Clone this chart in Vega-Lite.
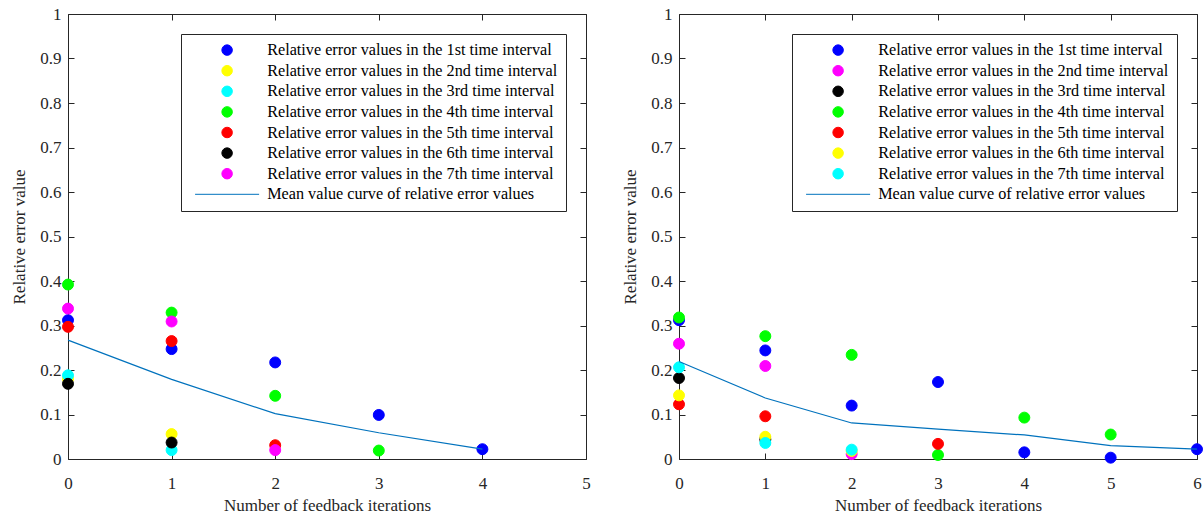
{
  "$schema": "https://vega.github.io/schema/vega-lite/v6.json",
  "padding": {"left": 10, "top": 5, "right": 3, "bottom": 2},
  "bounds": "flush",
  "spacing": 93,
  "datasets": {
    "leftPoints": [
      {"iteration": 0, "error": 0.312, "series": "Relative error values in the 1st time interval"},
      {"iteration": 1, "error": 0.247, "series": "Relative error values in the 1st time interval"},
      {"iteration": 2, "error": 0.217, "series": "Relative error values in the 1st time interval"},
      {"iteration": 3, "error": 0.099, "series": "Relative error values in the 1st time interval"},
      {"iteration": 4, "error": 0.022, "series": "Relative error values in the 1st time interval"},
      {"iteration": 0, "error": 0.180, "series": "Relative error values in the 2nd time interval"},
      {"iteration": 1, "error": 0.056, "series": "Relative error values in the 2nd time interval"},
      {"iteration": 0, "error": 0.188, "series": "Relative error values in the 3rd time interval"},
      {"iteration": 1, "error": 0.020, "series": "Relative error values in the 3rd time interval"},
      {"iteration": 0, "error": 0.392, "series": "Relative error values in the 4th time interval"},
      {"iteration": 1, "error": 0.329, "series": "Relative error values in the 4th time interval"},
      {"iteration": 2, "error": 0.142, "series": "Relative error values in the 4th time interval"},
      {"iteration": 3, "error": 0.019, "series": "Relative error values in the 4th time interval"},
      {"iteration": 0, "error": 0.297, "series": "Relative error values in the 5th time interval"},
      {"iteration": 1, "error": 0.265, "series": "Relative error values in the 5th time interval"},
      {"iteration": 2, "error": 0.031, "series": "Relative error values in the 5th time interval"},
      {"iteration": 0, "error": 0.169, "series": "Relative error values in the 6th time interval"},
      {"iteration": 1, "error": 0.037, "series": "Relative error values in the 6th time interval"},
      {"iteration": 0, "error": 0.338, "series": "Relative error values in the 7th time interval"},
      {"iteration": 1, "error": 0.309, "series": "Relative error values in the 7th time interval"},
      {"iteration": 2, "error": 0.020, "series": "Relative error values in the 7th time interval"}
    ],
    "leftMean": [
      {"iteration": 0, "error": 0.267, "series": "Mean value curve of relative error values"},
      {"iteration": 1, "error": 0.179, "series": "Mean value curve of relative error values"},
      {"iteration": 2, "error": 0.102, "series": "Mean value curve of relative error values"},
      {"iteration": 3, "error": 0.059, "series": "Mean value curve of relative error values"},
      {"iteration": 4, "error": 0.022, "series": "Mean value curve of relative error values"}
    ],
    "rightPoints": [
      {"iteration": 0, "error": 0.312, "series": "Relative error values in the 1st time interval"},
      {"iteration": 1, "error": 0.244, "series": "Relative error values in the 1st time interval"},
      {"iteration": 2, "error": 0.120, "series": "Relative error values in the 1st time interval"},
      {"iteration": 3, "error": 0.173, "series": "Relative error values in the 1st time interval"},
      {"iteration": 4, "error": 0.015, "series": "Relative error values in the 1st time interval"},
      {"iteration": 5, "error": 0.003, "series": "Relative error values in the 1st time interval"},
      {"iteration": 6, "error": 0.022, "series": "Relative error values in the 1st time interval"},
      {"iteration": 0, "error": 0.259, "series": "Relative error values in the 2nd time interval"},
      {"iteration": 1, "error": 0.209, "series": "Relative error values in the 2nd time interval"},
      {"iteration": 2, "error": 0.011, "series": "Relative error values in the 2nd time interval"},
      {"iteration": 0, "error": 0.182, "series": "Relative error values in the 3rd time interval"},
      {"iteration": 1, "error": 0.044, "series": "Relative error values in the 3rd time interval"},
      {"iteration": 0, "error": 0.318, "series": "Relative error values in the 4th time interval"},
      {"iteration": 1, "error": 0.276, "series": "Relative error values in the 4th time interval"},
      {"iteration": 2, "error": 0.234, "series": "Relative error values in the 4th time interval"},
      {"iteration": 3, "error": 0.009, "series": "Relative error values in the 4th time interval"},
      {"iteration": 4, "error": 0.093, "series": "Relative error values in the 4th time interval"},
      {"iteration": 5, "error": 0.055, "series": "Relative error values in the 4th time interval"},
      {"iteration": 0, "error": 0.123, "series": "Relative error values in the 5th time interval"},
      {"iteration": 1, "error": 0.096, "series": "Relative error values in the 5th time interval"},
      {"iteration": 3, "error": 0.034, "series": "Relative error values in the 5th time interval"},
      {"iteration": 0, "error": 0.143, "series": "Relative error values in the 6th time interval"},
      {"iteration": 1, "error": 0.050, "series": "Relative error values in the 6th time interval"},
      {"iteration": 2, "error": 0.018, "series": "Relative error values in the 6th time interval"},
      {"iteration": 0, "error": 0.206, "series": "Relative error values in the 7th time interval"},
      {"iteration": 1, "error": 0.036, "series": "Relative error values in the 7th time interval"},
      {"iteration": 2, "error": 0.021, "series": "Relative error values in the 7th time interval"}
    ],
    "rightMean": [
      {"iteration": 0, "error": 0.219, "series": "Mean value curve of relative error values"},
      {"iteration": 1, "error": 0.137, "series": "Mean value curve of relative error values"},
      {"iteration": 2, "error": 0.081, "series": "Mean value curve of relative error values"},
      {"iteration": 3, "error": 0.067, "series": "Mean value curve of relative error values"},
      {"iteration": 4, "error": 0.054, "series": "Mean value curve of relative error values"},
      {"iteration": 5, "error": 0.030, "series": "Mean value curve of relative error values"},
      {"iteration": 6, "error": 0.022, "series": "Mean value curve of relative error values"}
    ]
  },
  "hconcat": [
    {
      "width": 518,
      "height": 445,
      "layer": [
        {
          "data": {"name": "leftPoints"},
          "mark": {"type": "point", "filled": true, "opacity": 1, "strokeWidth": 1, "size": 120},
          "encoding": {
            "x": {"field": "iteration", "type": "quantitative", "scale": {"domain": [0, 5]}, "axis": {"orient": "bottom", "values": [0, 1, 2, 3, 4, 5], "title": "Number of feedback iterations", "labelPadding": 22, "titlePadding": 6}},
            "y": {"field": "error", "type": "quantitative", "scale": {"domain": [0, 1]}, "axis": {"orient": "left", "values": [0, 0.1, 0.2, 0.3, 0.4, 0.5, 0.6, 0.7, 0.8, 0.9, 1], "format": ".1~f", "title": "Relative error value", "labelPadding": 13, "titlePadding": 11}},
            "fill": {"field": "series", "type": "nominal", "scale": {"domain": ["Relative error values in the 1st time interval", "Relative error values in the 2nd time interval", "Relative error values in the 3rd time interval", "Relative error values in the 4th time interval", "Relative error values in the 5th time interval", "Relative error values in the 6th time interval", "Relative error values in the 7th time interval", "Mean value curve of relative error values"], "range": ["#0000ff", "#ffff00", "#00ffff", "#00ff00", "#ff0000", "#000000", "#ff00ff", "#0072bd"]}, "legend": {"title": null, "orient": "top-right", "offset": 20, "encode": {"symbols": {"update": {"size": {"signal": "datum.value === 'Mean value curve of relative error values' ? 4100 : 110"}}}}}},
            "stroke": {"field": "series", "type": "nominal", "scale": {"domain": ["Relative error values in the 1st time interval", "Relative error values in the 2nd time interval", "Relative error values in the 3rd time interval", "Relative error values in the 4th time interval", "Relative error values in the 5th time interval", "Relative error values in the 6th time interval", "Relative error values in the 7th time interval", "Mean value curve of relative error values"], "range": ["#0000ff", "#ffff00", "#00ffff", "#00ff00", "#ff0000", "#000000", "#ff00ff", "#0072bd"]}, "legend": {"title": null, "orient": "top-right", "offset": 20, "encode": {"symbols": {"update": {"size": {"signal": "datum.value === 'Mean value curve of relative error values' ? 4100 : 110"}}}}}},
            "shape": {"field": "series", "type": "nominal", "scale": {"domain": ["Relative error values in the 1st time interval", "Relative error values in the 2nd time interval", "Relative error values in the 3rd time interval", "Relative error values in the 4th time interval", "Relative error values in the 5th time interval", "Relative error values in the 6th time interval", "Relative error values in the 7th time interval", "Mean value curve of relative error values"], "range": ["circle", "circle", "circle", "circle", "circle", "circle", "circle", "stroke"]}, "legend": {"title": null, "orient": "top-right", "offset": 20, "encode": {"symbols": {"update": {"size": {"signal": "datum.value === 'Mean value curve of relative error values' ? 4100 : 110"}}}}}}
          }
        },
        {
          "data": {"name": "leftMean"},
          "mark": {"type": "line", "strokeWidth": 1.2},
          "encoding": {
            "x": {"field": "iteration", "type": "quantitative", "scale": {"domain": [0, 5]}, "axis": {"orient": "top", "values": [0, 1, 2, 3, 4, 5], "labels": false, "title": null}},
            "y": {"field": "error", "type": "quantitative", "scale": {"domain": [0, 1]}, "axis": {"orient": "right", "values": [0, 0.1, 0.2, 0.3, 0.4, 0.5, 0.6, 0.7, 0.8, 0.9, 1], "labels": false, "title": null}},
            "stroke": {"field": "series", "type": "nominal", "scale": {"domain": ["Relative error values in the 1st time interval", "Relative error values in the 2nd time interval", "Relative error values in the 3rd time interval", "Relative error values in the 4th time interval", "Relative error values in the 5th time interval", "Relative error values in the 6th time interval", "Relative error values in the 7th time interval", "Mean value curve of relative error values"], "range": ["#0000ff", "#ffff00", "#00ffff", "#00ff00", "#ff0000", "#000000", "#ff00ff", "#0072bd"]}, "legend": {"title": null, "orient": "top-right", "offset": 20, "encode": {"symbols": {"update": {"size": {"signal": "datum.value === 'Mean value curve of relative error values' ? 4100 : 110"}}}}}}
          }
        }
      ],
      "resolve": {"axis": {"x": "independent", "y": "independent"}}
    },
    {
      "width": 518,
      "height": 445,
      "layer": [
        {
          "data": {"name": "rightPoints"},
          "mark": {"type": "point", "filled": true, "opacity": 1, "strokeWidth": 1, "size": 120},
          "encoding": {
            "x": {"field": "iteration", "type": "quantitative", "scale": {"domain": [0, 6]}, "axis": {"orient": "bottom", "values": [0, 1, 2, 3, 4, 5, 6], "title": "Number of feedback iterations", "labelPadding": 22, "titlePadding": 6}},
            "y": {"field": "error", "type": "quantitative", "scale": {"domain": [0, 1]}, "axis": {"orient": "left", "values": [0, 0.1, 0.2, 0.3, 0.4, 0.5, 0.6, 0.7, 0.8, 0.9, 1], "format": ".1~f", "title": "Relative error value", "labelPadding": 13, "titlePadding": 11}},
            "fill": {"field": "series", "type": "nominal", "scale": {"domain": ["Relative error values in the 1st time interval", "Relative error values in the 2nd time interval", "Relative error values in the 3rd time interval", "Relative error values in the 4th time interval", "Relative error values in the 5th time interval", "Relative error values in the 6th time interval", "Relative error values in the 7th time interval", "Mean value curve of relative error values"], "range": ["#0000ff", "#ff00ff", "#000000", "#00ff00", "#ff0000", "#ffff00", "#00ffff", "#0072bd"]}, "legend": {"title": null, "orient": "top-right", "offset": 20, "encode": {"symbols": {"update": {"size": {"signal": "datum.value === 'Mean value curve of relative error values' ? 4100 : 110"}}}}}},
            "stroke": {"field": "series", "type": "nominal", "scale": {"domain": ["Relative error values in the 1st time interval", "Relative error values in the 2nd time interval", "Relative error values in the 3rd time interval", "Relative error values in the 4th time interval", "Relative error values in the 5th time interval", "Relative error values in the 6th time interval", "Relative error values in the 7th time interval", "Mean value curve of relative error values"], "range": ["#0000ff", "#ff00ff", "#000000", "#00ff00", "#ff0000", "#ffff00", "#00ffff", "#0072bd"]}, "legend": {"title": null, "orient": "top-right", "offset": 20, "encode": {"symbols": {"update": {"size": {"signal": "datum.value === 'Mean value curve of relative error values' ? 4100 : 110"}}}}}},
            "shape": {"field": "series", "type": "nominal", "scale": {"domain": ["Relative error values in the 1st time interval", "Relative error values in the 2nd time interval", "Relative error values in the 3rd time interval", "Relative error values in the 4th time interval", "Relative error values in the 5th time interval", "Relative error values in the 6th time interval", "Relative error values in the 7th time interval", "Mean value curve of relative error values"], "range": ["circle", "circle", "circle", "circle", "circle", "circle", "circle", "stroke"]}, "legend": {"title": null, "orient": "top-right", "offset": 20, "encode": {"symbols": {"update": {"size": {"signal": "datum.value === 'Mean value curve of relative error values' ? 4100 : 110"}}}}}}
          }
        },
        {
          "data": {"name": "rightMean"},
          "mark": {"type": "line", "strokeWidth": 1.2},
          "encoding": {
            "x": {"field": "iteration", "type": "quantitative", "scale": {"domain": [0, 6]}, "axis": {"orient": "top", "values": [0, 1, 2, 3, 4, 5, 6], "labels": false, "title": null}},
            "y": {"field": "error", "type": "quantitative", "scale": {"domain": [0, 1]}, "axis": {"orient": "right", "values": [0, 0.1, 0.2, 0.3, 0.4, 0.5, 0.6, 0.7, 0.8, 0.9, 1], "labels": false, "title": null}},
            "stroke": {"field": "series", "type": "nominal", "scale": {"domain": ["Relative error values in the 1st time interval", "Relative error values in the 2nd time interval", "Relative error values in the 3rd time interval", "Relative error values in the 4th time interval", "Relative error values in the 5th time interval", "Relative error values in the 6th time interval", "Relative error values in the 7th time interval", "Mean value curve of relative error values"], "range": ["#0000ff", "#ff00ff", "#000000", "#00ff00", "#ff0000", "#ffff00", "#00ffff", "#0072bd"]}, "legend": {"title": null, "orient": "top-right", "offset": 20, "encode": {"symbols": {"update": {"size": {"signal": "datum.value === 'Mean value curve of relative error values' ? 4100 : 110"}}}}}}
          }
        }
      ],
      "resolve": {"axis": {"x": "independent", "y": "independent"}}
    }
  ],
  "resolve": {
    "scale": {"x": "independent", "y": "independent", "fill": "independent", "stroke": "independent", "shape": "independent"},
    "legend": {"fill": "independent", "stroke": "independent", "shape": "independent"}
  },
  "config": {
    "view": {"stroke": null},
    "axis": {
      "domainColor": "#262626",
      "tickColor": "#262626",
      "labelColor": "#262626",
      "titleColor": "#262626",
      "labelFont": "Liberation Serif",
      "labelFontSize": 17,
      "titleFont": "Liberation Serif",
      "titleFontSize": 17,
      "titleFontWeight": "normal",
      "grid": false,
      "tickSize": -6,
      "labelPadding": 15,
      "titlePadding": 8,
      "domainWidth": 1,
      "tickWidth": 1,
      "labelFlush": false,
      "labelOverlap": false
    },
    "legend": {
      "padding": 8,
      "strokeColor": "#262626",
      "fillColor": "white",
      "labelFont": "Liberation Serif",
      "labelFontSize": 16.2,
      "labelColor": "#000000",
      "labelLimit": 500,
      "symbolOffset": 30,
      "labelOffset": 32,
      "rowPadding": 3.6,
      "symbolStrokeWidth": 1,
      "cornerRadius": 0
    }
  }
}
